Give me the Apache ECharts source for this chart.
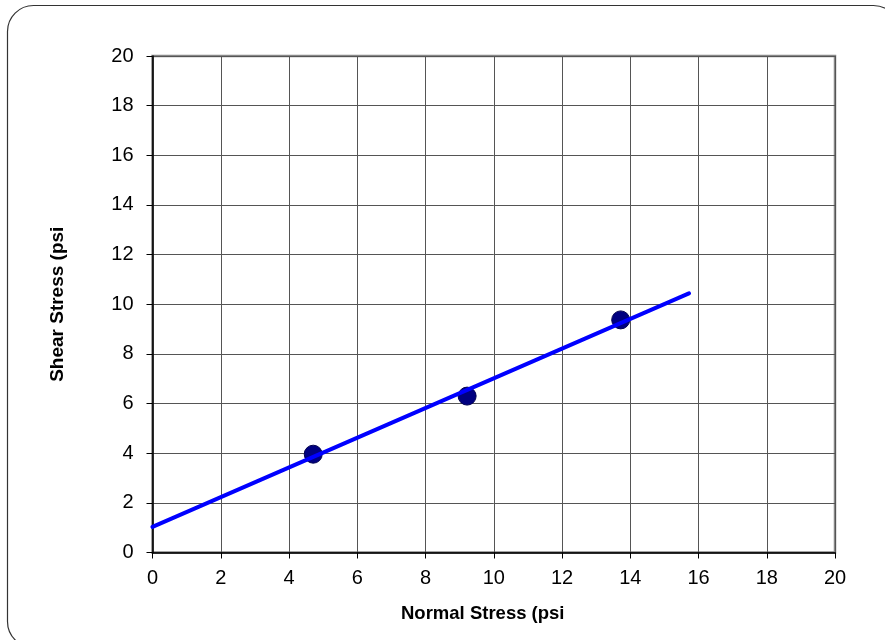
<!DOCTYPE html>
<html><head><meta charset="utf-8">
<script src="https://cdn.jsdelivr.net/npm/echarts@6/dist/echarts.min.js"></script>
<style>html,body{margin:0;padding:0;background:#fff}#c{width:885px;height:640px}</style>
</head><body><div id="c"></div>
<script>
var xName = 'Normal Stress (psi';
var yName = 'Shear Stress (psi';
var pointsX = [4.71, 9.22, 13.72];
var pointsY = [3.96, 6.30, 9.37];
var fitX = [0, 15.72];
var fitY = [1.03, 10.44];

var chart = echarts.init(document.getElementById('c'));
chart.setOption({
  animation: false,
  graphic: [{
    type: 'rect', silent: true, z: -10,
    shape: { x: 7.5, y: 5.5, width: 892, height: 642, r: 26 },
    style: { fill: 'none', stroke: '#333', lineWidth: 1.2 }
  }],
  grid: { left: 152.5, right: 50, top: 56, bottom: 87.5, show: true, borderColor: '#888', borderWidth: 2.5, backgroundColor: 'transparent' },
  xAxis: {
    type: 'value', min: 0, max: 20, interval: 2,
    name: xName, nameLocation: 'middle', nameGap: 52,
    nameTextStyle: { fontFamily: 'Liberation Sans, Arial', fontWeight: 'bold', fontSize: 18.5, color: '#000', padding: [0, 22, 0, 0] },
    axisLine: { show: true, onZero: false, lineStyle: { color: '#000', width: 1.5 } },
    axisTick: { show: true, length: 6, lineStyle: { color: '#000', width: 1 } },
    axisLabel: { fontFamily: 'Liberation Sans, Arial', fontSize: 20, color: '#000', margin: 16 },
    splitLine: { show: true, lineStyle: { color: '#555', width: 1 } }
  },
  yAxis: {
    type: 'value', min: 0, max: 20, interval: 2,
    name: yName, nameLocation: 'middle', nameGap: 85,
    nameTextStyle: { fontFamily: 'Liberation Sans, Arial', fontWeight: 'bold', fontSize: 19, color: '#000' },
    axisLine: { show: true, onZero: false, lineStyle: { color: '#000', width: 1.5 } },
    axisTick: { show: true, length: 6, lineStyle: { color: '#000', width: 1 } },
    axisLabel: { fontFamily: 'Liberation Sans, Arial', fontSize: 20, color: '#000', margin: 19 },
    splitLine: { show: true, lineStyle: { color: '#555', width: 1 } }
  },
  series: [{
    type: 'scatter', z: 2,
    data: pointsX.map(function (x, i) { return [x, pointsY[i]]; }),
    symbolSize: 18,
    itemStyle: { color: '#000080', borderColor: '#000050', borderWidth: 1, opacity: 1 }
  }, {
    type: 'line', z: 3,
    data: fitX.map(function (x, i) { return [x, fitY[i]]; }),
    showSymbol: false, symbol: 'none',
    lineStyle: { color: '#0000ff', width: 4, cap: 'round' }
  }]
});
</script></body></html>
